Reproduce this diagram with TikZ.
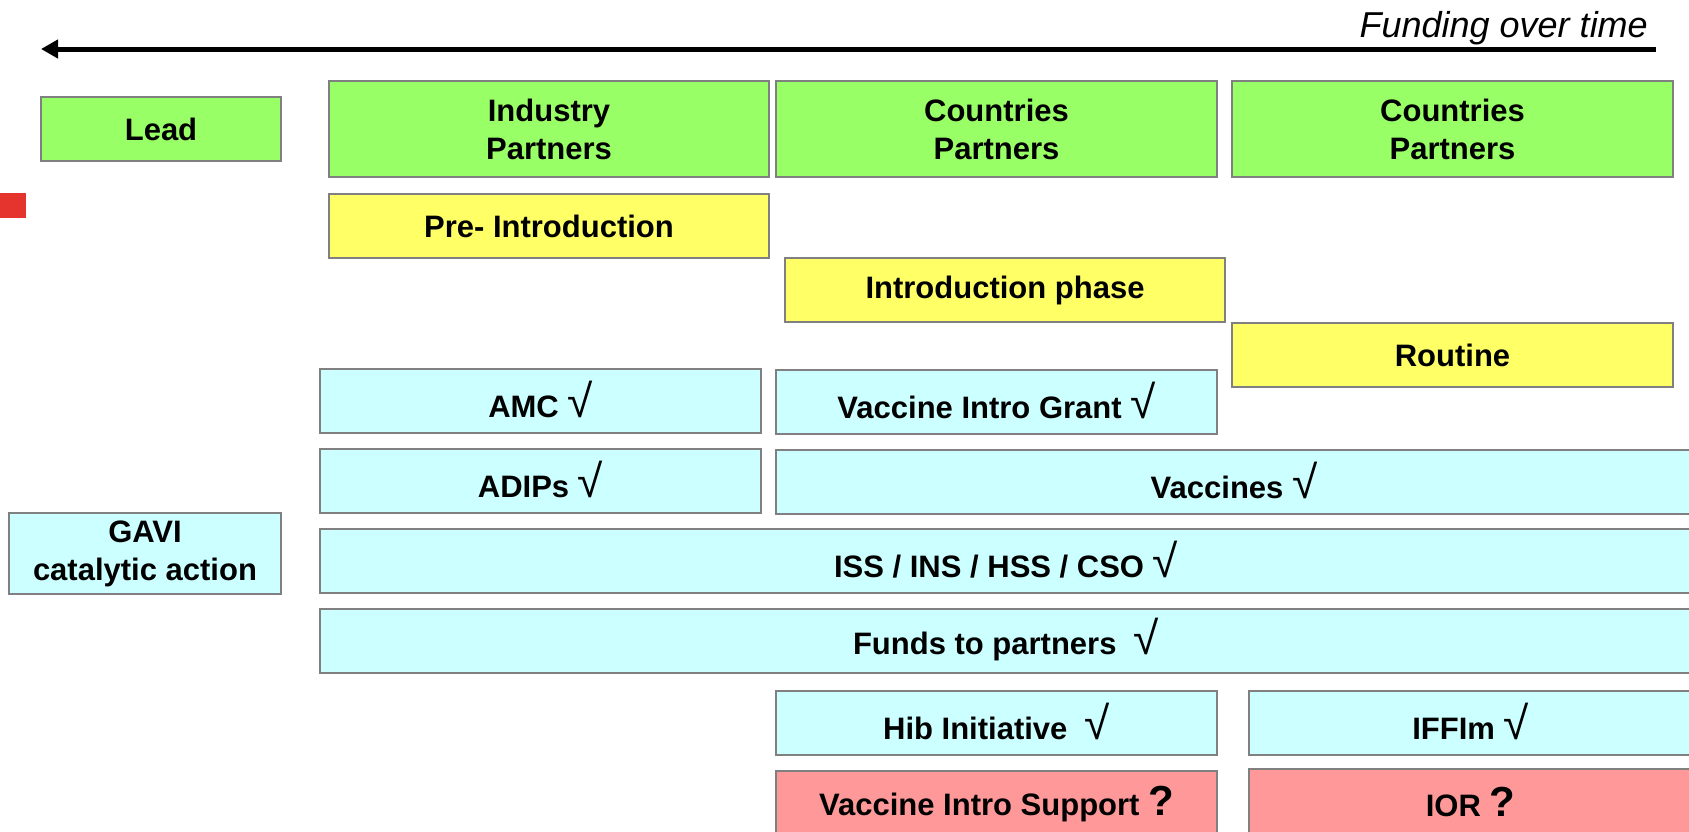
\documentclass[tikz,border=0pt]{standalone}
\usepackage{fontspec}
\setmainfont{Liberation Sans}
\usetikzlibrary{
  arrows.meta,
}
\definecolor{leadgreen}{RGB}{153, 255, 102}
\definecolor{phaseyellow}{RGB}{255, 255, 102}
\definecolor{fundcyan}{RGB}{204, 255, 255}
\definecolor{openpink}{RGB}{255, 153, 153}
\definecolor{markred}{RGB}{229, 51, 46}
\definecolor{edgegray}{RGB}{128, 128, 128}
\tikzstyle{box} = [
  draw=edgegray,
  line width=2pt,
  inner sep=0pt,
  outer sep=0pt,
  anchor=north west,
  minimum height=64pt,
  align=center,
  font=\fontsize{31}{38}\selectfont\bfseries,
]
\tikzstyle{leadbox} = [box, fill=leadgreen]
\tikzstyle{phasebox} = [box, fill=phaseyellow]
\tikzstyle{fundbox} = [box, fill=fundcyan]
\tikzstyle{openbox} = [box, fill=openpink]
\tikzstyle{timeline} = [
  -{Triangle[length=17pt,width=18pt]},
  line width=5pt,
  black,
]
\newcommand{\okmark}{\smash{\fontsize{46}{46}\selectfont\mdseries\char"221A}\rule{0pt}{33pt}}
\newcommand{\askmark}{\smash{\fontsize{42}{42}\selectfont ?}\rule{0pt}{31pt}}

\begin{document}
\begin{tikzpicture}[x=1pt, y=-1pt]

        \useasboundingbox (0,0) rectangle (1689,831);

        % Time axis
        \coordinate (timeright) at (1656,49);
        \coordinate (timeleft) at (41,49);
        \draw [timeline] (timeright) -- (timeleft);
        \node [anchor=base east, inner sep=0pt, font=\fontsize{36}{43}\selectfont\itshape]
              (funding) at (1648,37) {Funding over time};

        % Lead
        \node [leadbox, minimum width=240pt] (lead) at (41,97) {Lead};
        \node [leadbox, minimum width=440pt, minimum height=96pt] (industry) at (329,81) {Industry\\Partners};
        \node [leadbox, minimum width=441pt, minimum height=96pt] (countriesA) at (776,81) {Countries\\Partners};
        \node [leadbox, minimum width=441pt, minimum height=96pt] (countriesB) at (1232,81) {Countries\\Partners};

        \fill [markred] (0,193) rectangle (26,218);

        % Phases
        \node [phasebox, minimum width=440pt] (preintro) at (329,194) {Pre- Introduction};
        \node [phasebox, minimum width=440pt] (intro) at (785,258) {Introduction phase};
        \node [phasebox, minimum width=441pt] (routine) at (1232,323) {Routine};

        % Funding
        \node [fundbox, minimum width=441pt] (amc) at (320,369) {AMC \okmark};
        \node [fundbox, minimum width=441pt] (introgrant) at (776,370) {Vaccine Intro Grant \okmark};
        \node [fundbox, minimum width=441pt] (adips) at (320,449) {ADIPs \okmark};
        \node [fundbox, minimum width=916pt] (vaccines) at (776,450) {Vaccines \okmark};
        \node [fundbox, minimum width=272pt, minimum height=81pt] (gavi) at (9,513) {GAVI\\catalytic action};
        \node [fundbox, minimum width=1372pt] (iss) at (320,529) {ISS / INS / HSS / CSO \okmark};
        \node [fundbox, minimum width=1372pt] (partners) at (320,609) {Funds to partners\ \ \okmark};
        \node [fundbox, minimum width=441pt] (hib) at (776,691) {Hib Initiative\ \ \okmark};
        \node [fundbox, minimum width=443pt] (iffim) at (1249,691) {IFFIm \okmark};

        % Open questions
        \node [openbox, minimum width=441pt] (introsupport) at (776,771) {Vaccine Intro Support \askmark};
        \node [openbox, minimum width=443pt] (ior) at (1249,769) {IOR \askmark};
      \end{tikzpicture}
\end{document}
